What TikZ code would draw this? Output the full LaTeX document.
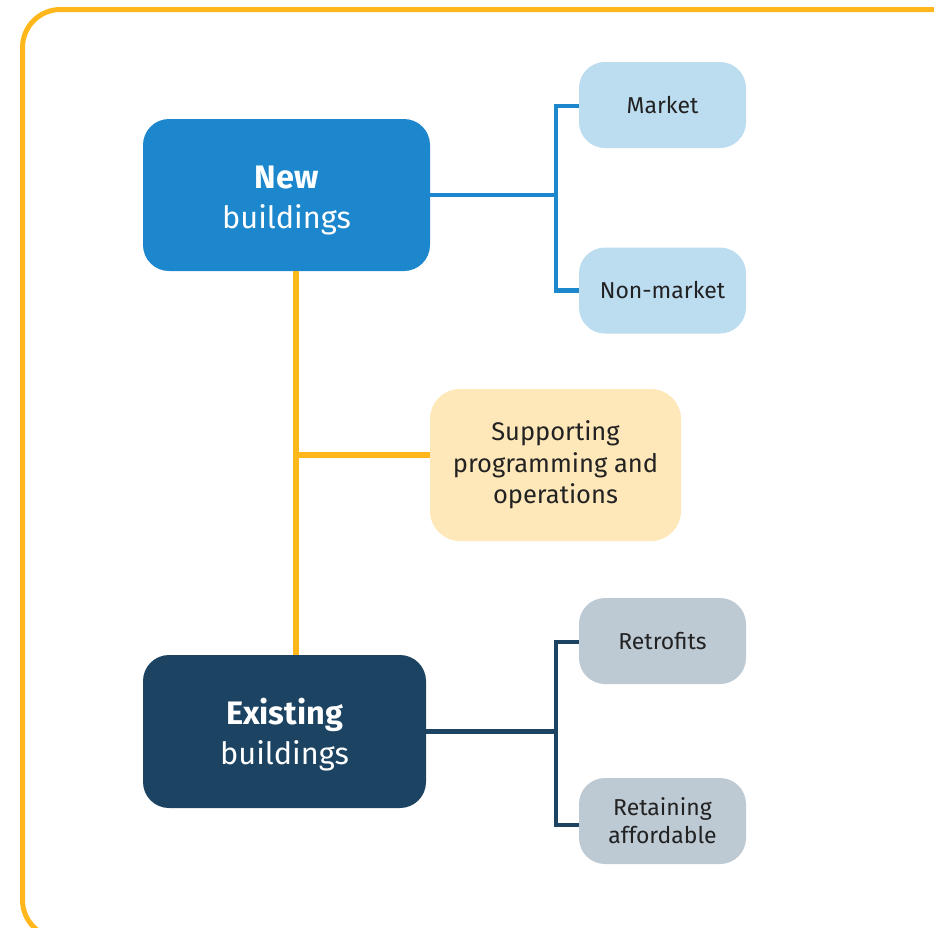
\documentclass[tikz,border=0pt]{standalone}
\usepackage{fontspec}
\setmainfont{Fira Sans}
\definecolor{frameY}{HTML}{FFB71B}
\definecolor{newB}{HTML}{1D87CD}
\definecolor{lightB}{HTML}{BCDCF0}
\definecolor{suppY}{HTML}{FEE8B9}
\definecolor{darkB}{HTML}{1C4462}
\definecolor{grayB}{HTML}{BDC9D3}
\definecolor{txt}{HTML}{222222}
\newcommand{\boldword}[1]{{\fontsize{32.5}{40}\selectfont\rule{0pt}{33pt}\textbf{#1}}}
\tikzset{
  bigbox/.style={rounded corners=26pt, inner sep=0pt, align=center, text=white,
    font=\fontsize{30.7}{40}\selectfont},
  smallbox/.style={rounded corners=26pt, inner sep=0pt, align=center, text=txt,
    minimum width=167pt, minimum height=86pt, fill=lightB,
    font=\fontsize{23}{28}\selectfont},
  blueline/.style={draw=newB, line width=4.3pt},
  yline/.style={draw=frameY, line width=6.5pt},
  darkline/.style={draw=darkB, line width=4.3pt},
}
\begin{document}
\begin{tikzpicture}[x=1pt,y=-1pt]
\useasboundingbox (0,0) rectangle (934,927);
\begin{scope}
\clip (0,0) rectangle (934,927);
\draw[frameY, line width=5pt, rounded corners=38pt] (22.5,9.5) rectangle (1000,938);
\end{scope}

\node[bigbox, fill=newB, minimum width=287pt, minimum height=152pt] (new) at (286.5,195) {\boldword{New}\\buildings};
\node[smallbox] (market) at (662.5,105) {Market};
\node[smallbox] (nonmarket) at (662.5,290.5) {Non-market};
\node[smallbox, fill=suppY, minimum width=251pt, minimum height=152pt, rounded corners=30pt,
  font=\fontsize{25.5}{31.5}\selectfont] (support) at (555.5,465) {Supporting\\programming and\\operations};
\node[bigbox, fill=darkB, minimum width=283pt, minimum height=153pt] (existing) at (284.5,731.5) {\boldword{Existing}\\buildings};
\node[smallbox, fill=grayB] (retro) at (662.5,641) {Retrofits};
\node[smallbox, fill=grayB] (retain) at (662.5,821) {Retaining\\affordable};

\coordinate (bj) at (556,195);
\coordinate (yx) at (296,455);
\coordinate (dj) at (556,731.5);

\draw[blueline] (new.east) -- (bj);
\draw[blueline] ([yshift=-1pt]market.west) -- ([yshift=-1pt]market.west -| bj) -- (nonmarket.west -| bj) -- (nonmarket.west);

\draw[yline] (yx |- new.south) -- (yx |- existing.north);
\draw[yline] (yx) -- (yx -| support.west);

\draw[darkline] (existing.east) -- (dj);
\draw[darkline] ([yshift=-1pt]retro.west) -- ([yshift=-1pt]retro.west -| dj) -- ([yshift=-4pt]retain.west -| dj) -- ([yshift=-4pt]retain.west);
\end{tikzpicture}
\end{document}
